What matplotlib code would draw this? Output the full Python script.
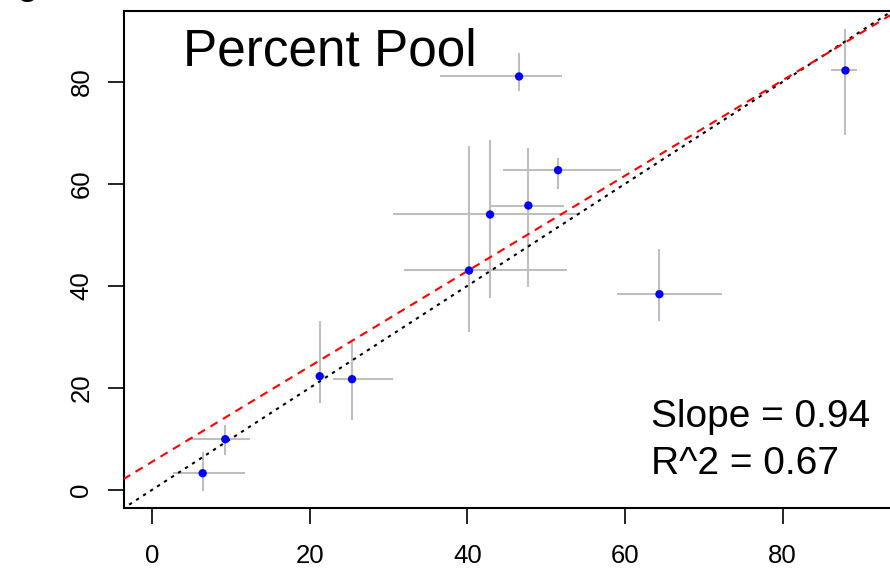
"""Percent Pool: observed vs predicted with error bars, 1:1 line and fit."""

import numpy as np
import matplotlib
matplotlib.use("Agg")
import matplotlib.pyplot as plt

plt.rcParams['font.family'] = ['Liberation Sans', 'DejaVu Sans']

# point estimates
x_val = [6.43, 9.30, 21.28, 25.38, 40.23, 42.89, 47.75, 51.52, 46.57, 64.38, 87.98]
y_val = [3.27, 9.94, 22.29, 21.71, 43.02, 54.00, 55.76, 62.69, 81.06, 38.37, 82.24]
# error ranges (low, high)
x_lo = [2.70, 4.40, 21.10, 22.93, 32.02, 30.62, 42.89, 44.58, 36.55, 59.05, 86.13]
x_hi = [11.80, 12.44, 22.00, 30.62, 52.63, 53.90, 52.28, 59.48, 51.99, 72.37, 89.50]
y_lo = [-0.12, 6.80, 16.94, 13.67, 30.98, 37.53, 39.80, 58.96, 78.18, 33.08, 69.49]
y_hi = [7.45, 12.69, 33.14, 29.02, 67.39, 68.57, 66.94, 65.10, 85.76, 47.33, 90.33]

fit_slope = 0.935
fit_intercept = 5.5
title = "Percent Pool"
stats_text = "Slope = 0.94\nR^2 = 0.67"
ticks = [0, 20, 40, 60, 80]

x = np.array(x_val)
y = np.array(y_val)
xerr = np.vstack([x - np.array(x_lo), np.array(x_hi) - x])
yerr = np.vstack([y - np.array(y_lo), np.array(y_hi) - y])

fig = plt.figure(figsize=(8.9, 5.7), dpi=100)
ax = fig.add_axes([124 / 890, 62 / 570, 776 / 890, 497 / 570])

ax.errorbar(x, y, xerr=xerr, yerr=yerr, fmt='none', ecolor='#bebebe',
            elinewidth=1.5, capsize=0, zorder=1)

xl = np.array([-10, 110])
ax.plot(xl, xl, color='black', linestyle=(0, (1.6, 2.4)), linewidth=1.5, zorder=2)
ax.plot(xl, fit_intercept + fit_slope * xl, color='red', linestyle=(0, (4, 3)),
        linewidth=1.5, zorder=3)

ax.scatter(x, y, s=36, color='blue', edgecolors='none', zorder=4)

ax.set_xlim(-3.55, 94.9)
ax.set_ylim(-3.55, 93.9)
ax.set_xticks(ticks)
ax.set_yticks(ticks)
ax.tick_params(axis='both', length=11.5, width=1.2, labelsize=18.5)
ax.tick_params(axis='x', pad=14.5)
ax.tick_params(axis='y', pad=10.5)
for lab in ax.get_yticklabels():
    lab.set_rotation(90)
    lab.set_va('center')
for s in ax.spines.values():
    s.set_linewidth(1.5)

ax.text(183 / 890, 1 - 28 / 570, title, transform=fig.transFigure,
        fontsize=37, va='top', ha='left')
ax.text(651 / 890, 1 - 399 / 570, stats_text, transform=fig.transFigure,
        fontsize=28, va='top', ha='left', linespacing=1.39)

fig.text(27 / 890, 1 + 6 / 570, "g", fontsize=28, ha='center', va='baseline')

fig.savefig("out.png", dpi=100)
